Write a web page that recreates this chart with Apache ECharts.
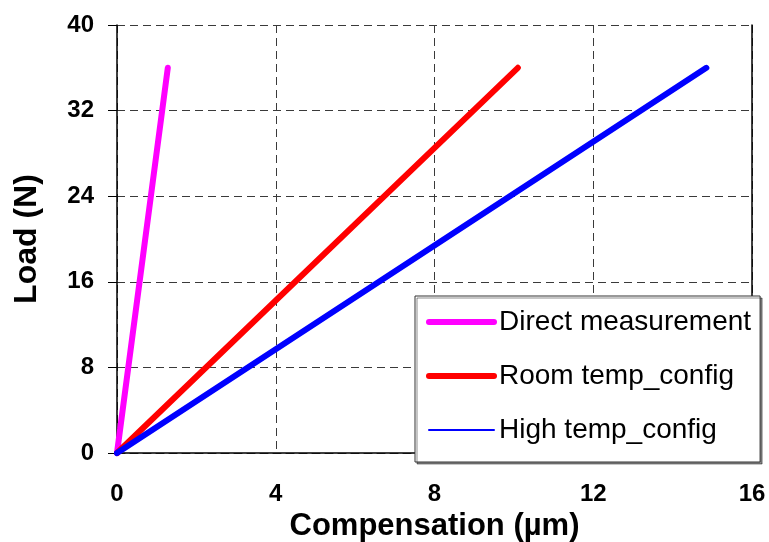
<!DOCTYPE html>
<html>
<head>
<meta charset="utf-8">
<script src="https://cdn.jsdelivr.net/npm/echarts@6/dist/echarts.min.js"></script>
<style>
  html, body { margin: 0; padding: 0; background: #fff; }
  #chart { width: 769px; height: 542px; }
</style>
</head>
<body>
<div id="chart"></div>
<script>
// Load vs. compensation for three measurement setups (straight-line fits)
const seriesNames = ['Direct measurement', 'Room temp_config', 'High temp_config'];
const loadN = [0, 36];
const directComp = [0, 1.28];
const roomComp = [0, 10.1];
const highComp = [0, 14.85];
const xTicks = [0, 4, 8, 12, 16];
const yTicks = [0, 8, 16, 24, 32, 40];

const colors = ['#FF00FF', '#FF0000', '#0000FF'];
const compSets = [directComp, roomComp, highComp];
const legendWidths = [6, 6, 2];

const FONT = '"Liberation Sans", Arial, sans-serif';
const gridColor = '#3a3a3a';

const chart = echarts.init(document.getElementById('chart'), null, { renderer: 'canvas' });

const series = seriesNames.map((name, i) => ({
  name: name,
  type: 'line',
  data: compSets[i].map((x, k) => [x, loadN[k]]),
  symbol: 'circle',
  showSymbol: false,
  clip: false,
  silent: true,
  animation: false,
  lineStyle: { color: colors[i], width: 6, cap: 'round', join: 'round' },
  itemStyle: { color: colors[i] },
  z: 3 + i
}));

chart.setOption({
  backgroundColor: '#ffffff',
  animation: false,
  grid: { left: 117, top: 25, right: 17, bottom: 89, containLabel: false, outerBoundsMode: 'none' },
  xAxis: [{
    type: 'value',
    min: xTicks[0],
    max: xTicks[xTicks.length - 1],
    interval: xTicks[1] - xTicks[0],
    position: 'bottom',
    name: 'Compensation (\u00b5m)',
    nameLocation: 'middle',
    nameGap: 54,
    nameTextStyle: { fontFamily: FONT, fontSize: 31, fontWeight: 'bold', color: '#000' },
    axisLine: { show: true, onZero: false, lineStyle: { color: gridColor, width: 1, type: [8, 5] } },
    axisTick: { show: false },
    axisLabel: { margin: 29, fontFamily: FONT, fontSize: 24, fontWeight: 'bold', color: '#000' },
    splitLine: { show: true, lineStyle: { color: gridColor, width: 1, type: [8, 5] } }
  }, {
    type: 'value',
    min: xTicks[0],
    max: xTicks[xTicks.length - 1],
    position: 'top',
    axisLine: { show: true, lineStyle: { color: '#000', width: 1.5 } },
    axisTick: { show: false },
    axisLabel: { show: false },
    splitLine: { show: false }
  }],
  yAxis: [{
    type: 'value',
    min: yTicks[0],
    max: yTicks[yTicks.length - 1],
    interval: yTicks[1] - yTicks[0],
    position: 'left',
    name: 'Load (N)',
    nameLocation: 'middle',
    nameGap: 74,
    nameRotate: 90,
    nameTextStyle: { fontFamily: FONT, fontSize: 32, fontWeight: 'bold', color: '#000' },
    axisLine: { show: true, onZero: false, lineStyle: { color: '#000', width: 1.5 } },
    axisTick: { show: true, inside: false, length: 9, lineStyle: { color: '#000', width: 1 } },
    axisLabel: { margin: 23, fontFamily: FONT, fontSize: 24, fontWeight: 'bold', color: '#000' },
    splitLine: { show: true, lineStyle: { color: gridColor, width: 1, type: [8, 5] } }
  }, {
    type: 'value',
    min: yTicks[0],
    max: yTicks[yTicks.length - 1],
    position: 'right',
    axisLine: { show: true, onZero: false, lineStyle: { color: '#000', width: 1.5 } },
    axisTick: { show: false },
    axisLabel: { show: false },
    splitLine: { show: false }
  }],
  legend: {
    orient: 'vertical',
    left: 415,
    top: 296,
    padding: [11, 9, 17, 11],
    itemWidth: 65,
    itemHeight: 14,
    itemGap: 24,
    backgroundColor: '#ffffff',
    borderColor: '#333333',
    borderWidth: 1,
    shadowColor: 'rgba(0,0,0,0.45)',
    shadowOffsetX: 2,
    shadowOffsetY: 2,
    shadowBlur: 0,
    selectedMode: false,
    itemStyle: { opacity: 0 },
    textStyle: { fontFamily: FONT, fontSize: 28, color: '#000', lineHeight: 30 },
    data: seriesNames.map((name, i) => ({
      name: name,
      lineStyle: { width: legendWidths[i], color: colors[i], cap: 'round' }
    })),
    z: 10
  },
  series: series
});
</script>
</body>
</html>
